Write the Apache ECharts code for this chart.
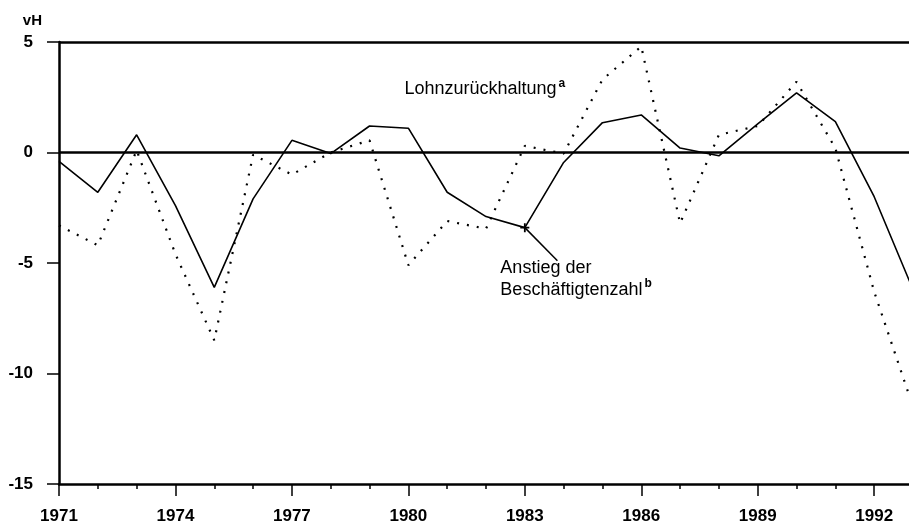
<!DOCTYPE html>
<html>
<head>
<meta charset="utf-8">
<script src="https://cdn.jsdelivr.net/npm/echarts@6/dist/echarts.min.js"></script>
<style>
  html, body { margin: 0; padding: 0; background: #fff; }
  #chart { width: 909px; height: 523px; }
</style>
</head>
<body>
<div id="chart"></div>
<script>
// Jahre (x-Achse)
const years = [1971, 1972, 1973, 1974, 1975, 1976, 1977, 1978, 1979, 1980, 1981, 1982,
  1983, 1984, 1985, 1986, 1987, 1988, 1989, 1990, 1991, 1992, 1993]

// Anstieg der Beschäftigtenzahl (durchgezogene Linie), vH
const beschaeftigung = [-0.4, -1.8, 0.8, -2.4, -6.1, -2.1, 0.55, -0.05, 1.2, 1.1, -1.8, -2.9,
  -3.4, -0.45, 1.35, 1.7, 0.2, -0.15, 1.3, 2.7, 1.4, -2.0, -6.2]

// Lohnzurückhaltung (gepunktete Linie), vH
const lohnzurueckhaltung = [-3.3, -4.2, 0.1, -4.6, -8.5, -0.1, -1.0, 0.0, 0.55, -5.1, -3.1, -3.45,
  0.3, -0.05, 3.3, 4.8, -3.2, 0.8, 1.2, 3.2, 0.2, -6.3, -11.5]

// Referenzlinien (oberer Rand und Nulllinie)
const refLines = [0, 5]

const FONT = '"Liberation Sans", Arial, sans-serif'

const chart = echarts.init(document.getElementById('chart'), null, { renderer: 'canvas' })

const toPairs = (vals) => years.map((y, i) => [y, vals[i]])

// Beschriftungen im Stil des Originals
const richText = {
  t: { fontFamily: FONT, fontSize: 18, color: '#000', lineHeight: 20 },
  s: { fontFamily: FONT, fontSize: 12, fontWeight: 'bold', color: '#000', padding: [0, 0, 12, 2] }
}

const option = {
  backgroundColor: '#fff',
  animation: false,
  grid: { left: 59, right: -4, top: 42, bottom: 39, outerBoundsMode: 'none' },
  xAxis: [
    {
      type: 'value',
      min: 1971,
      max: 1993,
      interval: 3,
      axisLine: { onZero: false, lineStyle: { color: '#000', width: 2.5 } },
      axisTick: { length: 12, lineStyle: { color: '#000', width: 1.5 } },
      axisLabel: {
        color: '#000',
        fontFamily: FONT,
        fontSize: 17,
        fontWeight: 'bold',
        margin: 24,
        showMaxLabel: false,
        formatter: v => String(v)
      },
      splitLine: { show: false }
    },
    {
      // nur die kleinen Jahres-Striche
      type: 'value',
      position: 'bottom',
      min: 1971,
      max: 1993,
      interval: 1,
      axisLine: { show: false, onZero: false },
      axisTick: { length: 5, lineStyle: { color: '#000', width: 1.5 } },
      axisLabel: { show: false },
      splitLine: { show: false }
    }
  ],
  yAxis: {
    type: 'value',
    min: -15,
    max: 5,
    interval: 5,
    name: 'vH',
    nameLocation: 'end',
    nameGap: 14,
    nameTextStyle: {
      color: '#000',
      fontFamily: FONT,
      fontSize: 15,
      fontWeight: 'bold',
      align: 'right',
      padding: [0, 17, 0, 0]
    },
    axisLine: { show: true, onZero: false, lineStyle: { color: '#000', width: 2.5 } },
    axisTick: { show: true, length: 12, lineStyle: { color: '#000', width: 1.5 } },
    axisLabel: {
      color: '#000',
      fontFamily: FONT,
      fontSize: 17,
      fontWeight: 'bold',
      margin: 26
    },
    splitLine: { show: false }
  },
  series: [
    {
      name: 'Lohnzurückhaltung',
      type: 'line',
      data: toPairs(lohnzurueckhaltung),
      symbol: 'none',
      lineStyle: { color: '#000', width: 2.2, type: [2, 8], cap: 'butt' },
      z: 2,
      markLine: {
        silent: true,
        symbol: 'none',
        label: { show: false },
        lineStyle: { color: '#000', width: 2.5, type: 'solid' },
        data: refLines.map(v => ({ yAxis: v }))
      },
      markPoint: {
        symbol: 'circle',
        symbolSize: 0,
        data: [
          {
            coord: [1979.9, 2.85],
            label: {
              show: true,
              position: 'right',
              distance: 0,
              formatter: '{t|Lohnzurückhaltung}{s|a}',
              rich: richText
            }
          }
        ]
      }
    },
    {
      name: 'Anstieg der Beschäftigtenzahl',
      type: 'line',
      data: toPairs(beschaeftigung),
      symbol: 'none',
      lineStyle: { color: '#000', width: 1.6 },
      z: 3,
      markLine: {
        silent: true,
        symbol: 'none',
        label: { show: false },
        lineStyle: { color: '#000', width: 1.5, type: 'solid' },
        data: [[{ coord: [1983, -3.4] }, { coord: [1983.84, -4.9] }]]
      },
      markPoint: {
        data: [
          {
            // kleines Kreuz am Punkt 1983
            coord: [1983, -3.4],
            symbol: 'path://M4,0 L6,0 L6,4 L10,4 L10,6 L6,6 L6,10 L4,10 L4,6 L0,6 L0,4 L4,4 Z',
            symbolSize: 9,
            itemStyle: { color: '#000' },
            label: { show: false }
          },
          {
            coord: [1982.37, -5.75],
            symbol: 'circle',
            symbolSize: 0,
            label: {
              show: true,
              position: 'right',
              distance: 0,
              formatter: '{t|Anstieg der}\n{t|Beschäftigtenzahl}{s|b}',
              rich: richText
            }
          }
        ]
      }
    }
  ]
}

chart.setOption(option)

window.addEventListener('resize', () => chart.resize())
</script>
</body>
</html>
